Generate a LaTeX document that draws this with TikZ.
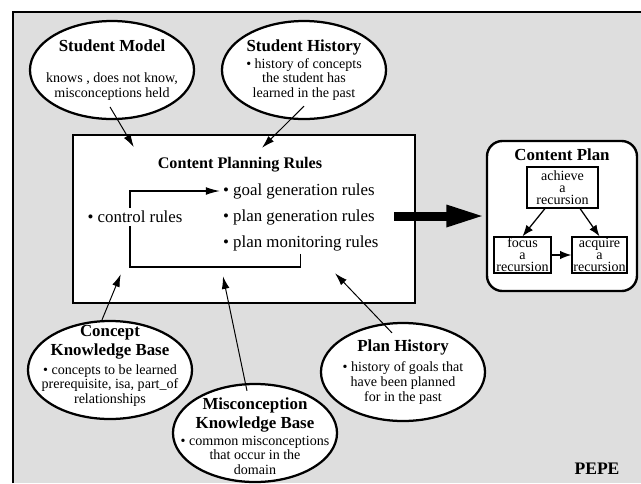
\documentclass[tikz,border=0pt]{standalone}
\usepackage{fontspec}
\setmainfont{Liberation Serif}
\usetikzlibrary{arrows.meta,shapes.geometric}
\newcommand{\kbtitle}[1]{{\fontsize{12}{13}\selectfont\bfseries #1}}
\begin{document}
\begin{tikzpicture}[x = 0.025cm, y = -0.025cm,
		kb/.style = {ellipse, draw, line width = 1.6pt, fill = white, minimum width = 4.1cm, minimum height = 2.45cm, inner sep = 0pt},
		kbtext/.style = {align = center, inner sep = 0pt, font = \fontsize{10}{10.5}\selectfont},
		feed/.style = {line width = 0.7pt, -{Latex[length = 9pt, width = 5.5pt]}},
		rulebox/.style = {draw, line width = 1.7pt, fill = white, minimum width = 8.55cm, minimum height = 4.2cm},
		rule/.style = {inner sep = 2pt, font = \fontsize{12}{14}\selectfont},
		planbox/.style = {draw, line width = 1.7pt, fill = white, rounded corners = 11pt, minimum width = 3.75cm, minimum height = 3.75cm},
		goalbox/.style = {draw, line width = 0.9pt, align = center, inner sep = 0.5pt, font = \fontsize{10}{8.6}\selectfont},
		subgoal/.style = {line width = 0.9pt, -{Latex[length = 8pt, width = 6pt]}},
		bigarrow/.style = {line width = 6.4pt, -{Triangle[length = 28pt, width = 14pt]}}]
	\useasboundingbox (0, 0) rectangle (641, 483);
	\fill[black!13] (13, 12) rectangle (641, 483);
	\draw[line width = 1pt] (13, 483) -- (13, 12) -- (641, 12);

	\node[kb] (sm) at (112, 70) {};
	\node[kbtext] at (sm) {\kbtitle{Student Model}\\[12pt] knows , does not know,\\ misconceptions held};
	\node[kb] (sh) at (304, 70) {};
	\node[kbtext] at (sh) {\kbtitle{Student History}\\[1.5pt] \textbullet{} history of concepts\\ the student has\\ learned in the past};
	\node[kb] (ckb) at (110, 370) {};
	\node[kbtext, yshift = 0.1cm] at (ckb) {\kbtitle{Concept}\\[1.5pt] \kbtitle{Knowledge Base}\\[3pt] \textbullet{} concepts to be learned\\ prerequisite, isa, part\_of\\ relationships};
	\node[kb] (mkb) at (255, 433) {};
	\node[kbtext, yshift = -0.08cm] at (mkb) {\kbtitle{Misconception}\\[1.5pt] \kbtitle{Knowledge Base}\\[1.5pt] \textbullet{} common misconceptions\\ that occur in the\\ domain};
	\node[kb] (ph) at (403, 372) {};
	\node[kbtext] at (ph) {\kbtitle{Plan History}\\[4pt] \textbullet{} history of goals that\\ have been planned\\ for in the past};

	\node[rulebox] (cpr) at (244, 219) {};
	\node[rule, font = \fontsize{11.5}{13}\selectfont\bfseries] (cprt) at (240, 165) {Content Planning Rules};
	\node[rule, anchor = west] (goal) at (220, 191) {\textbullet{} goal generation rules};
	\node[rule, anchor = west] (gen) at (220, 217) {\textbullet{} plan generation rules};
	\node[rule, anchor = west] (mon) at (220, 243) {\textbullet{} plan monitoring rules};
	\node[rule] (ctl) at (135, 217) {\textbullet{} control rules};
	\coordinate (lp) at (130, 267);
	\draw[line width = 0.9pt, -{Latex[length = 10pt, width = 5.5pt]}] (lp |- ctl.north) |- (goal.west);
	\draw[line width = 0.9pt] (mon.south) -- (mon.south |- lp) -- (lp) -- (lp |- ctl.south);

	\node[planbox] (cp) at (562, 216) {};
	\node[font = \fontsize{12}{13}\selectfont\bfseries] (cpt) at (562, 155) {Content Plan};
	\node[goalbox, minimum width = 1.775cm, minimum height = 1.025cm] (ach) at (562.5, 187.5) {achieve\\a\\recursion};
	\node[goalbox, minimum width = 1.425cm, minimum height = 0.9cm] (foc) at (522.5, 255) {focus\\a\\recursion};
	\node[goalbox, minimum width = 1.375cm, minimum height = 0.9cm] (acq) at (599.5, 255) {acquire\\a\\recursion};
	\draw[subgoal] ([xshift = -0.44cm]ach.south) -- (foc.north);
	\draw[subgoal] ([xshift = 0.44cm]ach.south) -- (acq.north);
	\draw[subgoal] (foc.east) -- (acq.west);

	\coordinate (bigtail) at ([xshift = -0.55cm]cpr.east);
	\draw[bigarrow] (bigtail |- cp.west) -- (cp.west);

	\draw[feed] ([xshift = -0.05cm, yshift = 0.33cm]sm.south) -- ([xshift = 1.55cm, yshift = -0.33cm]cpr.north west);
	\draw[feed] ([yshift = 0.35cm]sh.south) -- ([xshift = 0.45cm, yshift = -0.35cm]cpr.north);
	\draw[feed] ([xshift = -0.2cm]ckb.north) -- ([xshift = 1.225cm, yshift = 0.75cm]cpr.south west);
	\draw[feed] ([xshift = -0.2cm, yshift = -0.2cm]mkb.north) -- ([xshift = -0.525cm, yshift = 0.7cm]cpr.south);
	\draw[feed] ([xshift = -0.275cm, yshift = -0.275cm]ph.north) -- ([xshift = 2.275cm, yshift = 0.775cm]cpr.south);

	\node[font = \fontsize{12.5}{14}\selectfont\bfseries] (pepe) at (597, 469) {PEPE};
\end{tikzpicture}
\end{document}
